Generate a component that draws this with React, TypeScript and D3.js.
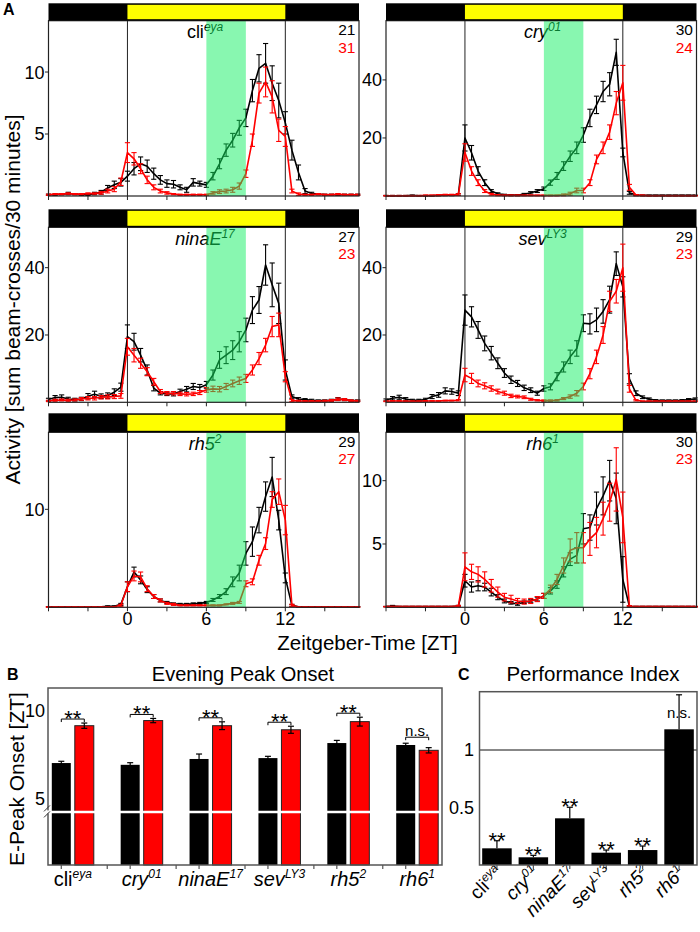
import React from 'react';
import * as d3 from 'd3';

// ---------------- DATA ----------------
const ZT = [-6,-5.5,-5,-4.5,-4,-3.5,-3,-2.5,-2,-1.5,-1,-0.5,
  0,0.5,1,1.5,2,2.5,3,3.5,4,4.5,5,5.5,
  6,6.5,7,7.5,8,8.5,9,9.5,10,10.5,11,11.5,
  12,12.5,13,13.5,14,14.5,15,15.5,16,16.5,17,17.5];

const cliBlack = [0.1,0.1,0.15,0.2,0.15,0.1,0.1,0.2,0.3,0.65,0.9,1.1,
  1.6,2.2,2.6,2.4,1.8,1.3,1.0,0.95,0.7,0.5,1.1,1.0,
  0.9,1.6,2.6,3.7,4.5,5.5,6.3,8.5,10.3,10.7,9.1,7.7,
  5.9,3.7,1.9,0.4,0.2,0.15,0.1,0.1,0.1,0.1,0.1,0.1];
const cliBlackErr = [0.05,0.05,0.05,0.1,0.05,0.05,0.05,0.1,0.15,0.2,0.3,0.3,
  0.4,0.5,0.55,0.5,0.45,0.35,0.3,0.3,0.2,0.2,0.3,0.2,
  0.2,0.3,0.4,0.5,0.55,0.6,0.7,0.9,1.1,1.6,1.4,1.4,
  0.9,0.8,0.6,0.2,0.1,0.05,0.05,0.05,0.05,0.05,0.05,0.05];
const cliRed = [0.1,0.15,0.15,0.2,0.15,0.15,0.2,0.2,0.25,0.4,0.55,1.15,
  3.5,3.0,2.2,1.3,0.7,0.4,0.25,0.15,0.1,0.1,0.1,0.1,
  0.1,0.25,0.35,0.4,0.5,0.8,1.8,4.5,8.3,9.2,8.0,5.3,
  4.8,0.4,0.15,0.1,0.1,0.15,0.1,0.1,0.15,0.1,0.1,0.1];
const cliRedErr = [0.05,0.05,0.05,0.05,0.05,0.05,0.05,0.05,0.1,0.15,0.2,0.3,
  0.8,0.5,0.4,0.3,0.2,0.15,0.1,0.05,0.05,0.05,0.05,0.05,
  0.05,0.1,0.15,0.15,0.2,0.25,0.3,0.5,0.8,1.2,1.3,0.9,
  0.8,0.15,0.1,0.05,0.05,0.05,0.05,0.05,0.05,0.05,0.05,0.05];

const cryBlack = [0.1,0.1,0.1,0.1,0.2,0.1,0.1,0.1,0.2,0.3,0.3,0.5,
  20,14.9,8.6,4.6,1.7,0.8,0.4,0.3,0.3,0.6,1.1,1.7,
  2.5,4.6,6.9,10.3,13.7,16.6,21,26.9,31.4,36,38.5,49.5,
  15,1.1,0.3,0.2,0.2,0.2,0.2,0.2,0.2,0.2,0.2,0.2];
const cryBlackErr = [0.1,0.1,0.1,0.1,0.1,0.1,0.1,0.1,0.1,0.2,0.2,0.3,
  4.5,2.5,1.5,1.0,0.5,0.3,0.2,0.2,0.2,0.3,0.4,0.5,
  0.6,0.9,1.2,1.5,1.8,2.0,2.5,3.0,3.0,3.5,4.0,4.5,
  1.5,0.5,0.2,0.1,0.1,0.1,0.1,0.1,0.1,0.1,0.1,0.1];
const cryRed = [0.1,0.1,0.1,0.1,0.1,0.1,0.2,0.2,0.3,0.4,0.4,0.5,
  15,8.6,4.6,1.7,0.6,0.3,0.2,0.2,0.2,0.2,0.2,0.2,
  0.2,0.2,0.2,0.4,0.8,1.9,1.9,4.6,12.6,16.6,22,32,
  39,3,0.3,0.2,0.1,0.1,0.1,0.1,0.1,0.1,0.1,0.1];
const cryRedErr = [0.1,0.1,0.1,0.1,0.1,0.1,0.1,0.1,0.2,0.2,0.2,0.3,
  3.0,1.5,1.0,0.5,0.3,0.2,0.1,0.1,0.1,0.1,0.1,0.1,
  0.1,0.1,0.1,0.3,0.5,0.8,0.8,1.0,1.5,2.0,2.5,4.0,
  6.0,1.0,0.2,0.1,0.1,0.1,0.1,0.1,0.1,0.1,0.1,0.1];

const ninaEBlack = [0.8,1.4,1.5,1.0,0.8,1.0,1.8,2.4,1.8,2.0,3.0,4.5,
  19.5,18,14,9.6,4.2,2.7,2.5,2.5,3.2,3.9,4.7,4.4,
  5.2,8.1,12.6,14,15.5,18,21.5,27.4,30.4,40.8,34.9,29.4,
  9.6,1.7,1.0,0.8,0.6,0.5,0.5,0.6,1.0,0.8,0.5,0.5];
const ninaEBlackErr = [0.4,0.6,0.7,0.5,0.4,0.5,0.8,0.9,0.7,0.8,1.0,1.2,
  3.5,2.5,2.0,1.5,0.8,0.5,0.5,0.6,0.7,0.8,0.9,0.9,
  1.0,1.5,2.5,2.5,2.8,3.0,3.5,4.0,4.0,6.0,6.5,6.0,
  3.0,0.5,0.4,0.3,0.3,0.2,0.2,0.3,0.4,0.3,0.2,0.2];
const ninaERed = [0.4,0.6,0.7,0.6,0.7,1.0,1.2,1.2,1.5,1.6,1.7,1.9,
  16.5,14,11.6,9.1,6.1,3.2,2.7,2.7,2.5,2.4,2.5,2.9,
  3.7,4.0,3.9,4.7,5.6,6.4,7.1,9.6,13,17,22.5,23,
  7.6,0.5,0.4,0.3,0.3,0.3,0.4,0.5,0.9,0.8,0.5,0.4];
const ninaERedErr = [0.2,0.3,0.3,0.3,0.3,0.4,0.5,0.5,0.5,0.6,0.6,0.7,
  2.5,2.0,1.5,1.2,1.0,0.6,0.5,0.5,0.5,0.5,0.5,0.6,
  0.7,0.8,0.8,0.9,1.0,1.1,1.2,1.5,1.8,2.0,3.0,3.5,
  1.5,0.3,0.2,0.2,0.2,0.2,0.2,0.3,0.4,0.3,0.2,0.2];

const sevBlack = [0.7,1.2,1.5,1.0,0.6,0.6,0.8,1.7,2.2,3.4,3.2,2.7,
  27.4,25.4,21.5,17.5,14.6,11.6,8.7,6.7,5.6,4.3,3.6,2.7,
  4.1,4.6,7.6,10.5,13.5,16,23.5,23.3,24.5,27,30.5,41.2,
  34.3,7,2.7,1.5,1.0,0.6,0.5,0.5,0.5,0.6,0.8,1.0];
const sevBlackErr = [0.3,0.5,0.6,0.4,0.3,0.3,0.4,0.6,0.7,0.9,0.8,0.7,
  4.5,3.0,2.5,2.2,2.0,1.6,1.3,1.1,0.9,0.8,0.7,0.6,
  0.8,0.9,1.2,1.5,2.0,2.3,2.5,3.0,3.5,3.5,4.0,3.5,
  3.0,1.5,0.7,0.4,0.3,0.2,0.2,0.2,0.2,0.2,0.3,0.3];
const sevRed = [0.3,0.4,0.4,0.3,0.3,0.3,0.4,0.4,0.4,0.5,0.5,0.6,
  8.1,7.1,5.6,4.9,4.1,3.2,2.7,1.9,1.7,1.5,0.9,0.6,
  0.5,0.5,0.6,1.1,1.7,2.7,4.7,8.5,13.5,20,30,33,
  40,4,0.6,0.3,0.3,0.3,0.3,0.3,0.3,0.3,0.3,0.3];
const sevRedErr = [0.1,0.1,0.1,0.1,0.1,0.1,0.1,0.1,0.1,0.1,0.1,0.2,
  2.0,1.5,1.0,0.9,0.8,0.7,0.6,0.5,0.4,0.4,0.3,0.2,
  0.2,0.2,0.2,0.3,0.5,0.8,1.0,1.5,2.0,2.5,3.0,3.5,
  7.0,1.0,0.2,0.1,0.1,0.1,0.1,0.1,0.1,0.1,0.1,0.1];

const rh5Black = [0.05,0.05,0.05,0.05,0.05,0.05,0.05,0.05,0.05,0.1,0.1,0.3,
  2.1,3.6,2.8,1.8,1.1,0.7,0.5,0.35,0.3,0.3,0.35,0.4,
  0.5,0.75,1.1,1.6,2.6,3.5,5.5,6.7,8.9,11.3,13.3,8.9,
  3.0,0.2,0.05,0.05,0.05,0.05,0.05,0.05,0.05,0.05,0.05,0.05];
const rh5BlackErr = [0.02,0.02,0.02,0.02,0.02,0.02,0.02,0.02,0.02,0.05,0.05,0.1,
  0.5,0.5,0.4,0.3,0.2,0.15,0.1,0.1,0.1,0.1,0.1,0.1,
  0.1,0.15,0.2,0.3,0.5,0.8,1.2,1.5,1.3,1.5,2.0,1.0,
  0.5,0.1,0.02,0.02,0.02,0.02,0.02,0.02,0.02,0.02,0.02,0.02];
const rh5Red = [0.03,0.03,0.03,0.03,0.03,0.03,0.03,0.03,0.03,0.03,0.05,0.2,
  2.1,3.2,3.1,1.9,1.1,0.7,0.4,0.3,0.2,0.2,0.2,0.2,
  0.2,0.2,0.2,0.3,0.4,0.5,2.4,2.6,4.8,6.5,11,11.8,
  8.9,0.2,0.03,0.03,0.03,0.03,0.03,0.03,0.03,0.03,0.03,0.03];
const rh5RedErr = [0.02,0.02,0.02,0.02,0.02,0.02,0.02,0.02,0.02,0.02,0.02,0.1,
  0.5,0.5,0.5,0.3,0.2,0.15,0.1,0.1,0.05,0.05,0.05,0.05,
  0.05,0.05,0.05,0.05,0.1,0.1,0.3,0.3,0.5,0.6,0.8,1.3,
  1.5,0.1,0.02,0.02,0.02,0.02,0.02,0.02,0.02,0.02,0.02,0.02];

const rh6Black = [0.05,0.1,0.05,0.05,0.05,0.05,0.05,0.05,0.05,0.05,0.05,0.1,
  2.1,1.6,1.7,1.6,1.2,0.8,0.5,0.35,0.26,0.4,0.5,0.65,
  0.9,1.3,1.8,2.8,3.8,4.1,6.2,6.3,7.8,8.8,10,8.6,
  2.2,0.08,0.05,0.05,0.05,0.05,0.05,0.05,0.05,0.05,0.05,0.05];
const rh6BlackErr = [0.02,0.05,0.02,0.02,0.02,0.02,0.02,0.02,0.02,0.02,0.02,0.05,
  0.5,0.4,0.4,0.3,0.3,0.2,0.15,0.1,0.1,0.1,0.1,0.15,
  0.2,0.25,0.3,0.4,0.5,0.6,1.2,1.0,1.3,1.5,1.6,2.0,
  1.8,0.05,0.02,0.02,0.02,0.02,0.02,0.02,0.02,0.02,0.02,0.02];
const rh6Red = [0.05,0.05,0.05,0.05,0.05,0.05,0.05,0.05,0.05,0.05,0.05,0.1,
  3.2,2.8,2.6,2.2,1.7,1.2,0.8,0.65,0.5,0.45,0.5,0.65,
  0.9,1.45,2.2,3.3,4.5,4.7,4.7,5.4,5.9,7.0,8.3,10.1,
  7.1,0.08,0.05,0.05,0.05,0.05,0.05,0.05,0.05,0.05,0.05,0.05];
const rh6RedErr = [0.02,0.02,0.02,0.02,0.02,0.02,0.02,0.02,0.02,0.02,0.02,0.05,
  1.1,0.6,0.6,0.6,0.5,0.4,0.3,0.3,0.2,0.2,0.2,0.2,
  0.2,0.3,0.4,0.6,0.9,1.2,1.2,1.3,1.2,1.3,1.5,2.5,
  2.0,0.05,0.02,0.02,0.02,0.02,0.02,0.02,0.02,0.02,0.02,0.02];

const genotypes = [
  { base: 'cli', sup: 'eya', italic: false },
  { base: 'cry', sup: '01', italic: true },
  { base: 'ninaE', sup: '17', italic: true },
  { base: 'sev', sup: 'LY3', italic: true },
  { base: 'rh5', sup: '2', italic: true },
  { base: 'rh6', sup: '1', italic: true },
];
const nBlack = [21, 30, 27, 29, 29, 30];
const nRed = [31, 24, 23, 23, 27, 23];
const yMaxA = [14.14, 60.4, 52, 52, 17.86, 13.82];
const yTicksA = [[5, 10], [20, 40], [20, 40], [20, 40], [10], [5, 10]];
const ztTicks = [-6, -3, 0, 3, 6, 9, 12, 15];
const ztLabels = [0, 6, 12];
const lightOn = 0, lightOff = 12;
const greenFrom = 6, greenTo = 9;

const onsetBlack = [7.02, 6.92, 7.25, 7.3, 8.15, 8.04];
const onsetBlackErr = [0.1, 0.12, 0.28, 0.1, 0.15, 0.1];
const onsetRed = [9.13, 9.42, 9.13, 8.9, 9.36, 7.74];
const onsetRedErr = [0.15, 0.12, 0.22, 0.2, 0.25, 0.15];
const onsetSig = ['**', '**', '**', '**', '**', 'n.s.'];
const onsetTicks = [5, 10];
const onsetBreak = 4.26;

const piValues = [0.145, 0.067, 0.406, 0.107, 0.13, 1.18];
const piErr = [0.066, 0.017, 0.096, 0.023, 0.035, 0.30];
const piSig = ['**', '**', '**', '**', '**', 'n.s.'];
const piTicks = [0.5, 1];

const blackSeries = [cliBlack, cryBlack, ninaEBlack, sevBlack, rh5Black, rh6Black];
const blackErrs = [cliBlackErr, cryBlackErr, ninaEBlackErr, sevBlackErr, rh5BlackErr, rh6BlackErr];
const redSeries = [cliRed, cryRed, ninaERed, sevRed, rh5Red, rh6Red];
const redErrs = [cliRedErr, cryRedErr, ninaERedErr, sevRedErr, rh5RedErr, rh6RedErr];

// ---------------- LAYOUT ----------------
const FONT = "'Liberation Sans', Arial, Helvetica, sans-serif";
const RED = '#ff0000';
const colLeft = [48.5, 386];
const colW = 310.5;
const rows = [
  { barTop: 3.3, barBot: 20.7, bottom: 196 },
  { barTop: 209.3, barBot: 227.3, bottom: 402.3 },
  { barTop: 413.3, barBot: 432.3, bottom: 607.3 },
];

function Geno({ g, x, y, size, sup, anchor = 'middle', transform }: any) {
  return (
    <text x={x} y={y} fontSize={size} textAnchor={anchor} transform={transform}>
      <tspan fontStyle={g.italic ? 'italic' : 'normal'}>{g.base}</tspan>
      <tspan fontStyle="italic" fontSize={sup} dy={-size * 0.38}>{g.sup}</tspan>
    </text>
  );
}

function ActivityPanel({ gi }: { gi: number }) {
  const col = gi % 2;
  const row = Math.floor(gi / 2);
  const r = rows[row];
  const x0 = colLeft[col];
  const x1 = x0 + colW;
  const x = d3.scaleLinear().domain([-6, 17.6]).range([x0, x1]);
  const y = d3.scaleLinear().domain([0, yMaxA[gi]]).range([r.bottom, r.barBot]);
  const line = d3.line<number>().x((_, i) => x(ZT[i])).y((d) => y(d));
  const series = [
    { v: blackSeries[gi], e: blackErrs[gi], c: '#000' },
    { v: redSeries[gi], e: redErrs[gi], c: RED },
  ];
  return (
    <g>
      {[lightOn, lightOff].map((t) => (
        <line key={t} x1={x(t)} x2={x(t)} y1={r.barBot} y2={r.bottom} stroke="#222" strokeWidth={1} />
      ))}
      {series.map((s, si) => (
        <g key={si}>
          <path d={line(s.v) || ''} fill="none" stroke={s.c} strokeWidth={1.6} strokeLinejoin="round" />
          {s.v.map((v, i) => {
            const xi = x(ZT[i]);
            const lo = y(Math.max(0, v - s.e[i]));
            const hi = y(v + s.e[i]);
            return (
              <g key={i} stroke={s.c} strokeWidth={1.1}>
                <line x1={xi} x2={xi} y1={lo} y2={hi} />
                <line x1={xi - 2.6} x2={xi + 2.6} y1={hi} y2={hi} />
                <line x1={xi - 2.6} x2={xi + 2.6} y1={lo} y2={lo} />
              </g>
            );
          })}
        </g>
      ))}
      <Geno g={genotypes[gi]} x={x(5.9)} y={r.barBot + 17.5} size={18} sup={12} />
      <text x={x1 - 3.5} y={r.barBot + 14.5} fontSize={15.5} textAnchor="end" fill="#000">{nBlack[gi]}</text>
      <text x={x1 - 3.5} y={r.barBot + 32} fontSize={15.5} textAnchor="end" fill={RED}>{nRed[gi]}</text>
      <rect x={x(greenFrom)} width={x(greenTo) - x(greenFrom)} y={r.barBot} height={r.bottom - r.barBot}
        fill="rgb(17,239,97)" fillOpacity={0.5} />
      <rect x={x0} y={r.barBot} width={colW} height={r.bottom - r.barBot} fill="none" stroke="#222" strokeWidth={1.2} />
      <rect x={x0} y={r.barTop} width={colW} height={r.barBot - r.barTop} fill="#000" />
      <rect x={x(lightOn)} y={r.barTop + 1.5} width={x(lightOff) - x(lightOn)} height={r.barBot - r.barTop - 3} fill="#ffff00" />
      {ztTicks.map((t) => (
        <line key={t} x1={x(t)} x2={x(t)} y1={r.bottom} y2={r.bottom + 4} stroke="#222" strokeWidth={1} />
      ))}
      {row === 2 && ztLabels.map((t) => (
        <text key={t} x={x(t)} y={r.bottom + 18} fontSize={18} textAnchor="middle">{t}</text>
      ))}
      {yTicksA[gi].map((t) => (
        <g key={t}>
          <line x1={x0 - 3.5} x2={x0} y1={y(t)} y2={y(t)} stroke="#222" strokeWidth={1} />
          <text x={x0 - 4} y={y(t)} dy="0.36em" fontSize={18} textAnchor="end">{t}</text>
        </g>
      ))}
    </g>
  );
}

function OnsetPanel() {
  const left = 48, right = 442, top = 688, bottom = 865;
  const names = genotypes.map((g) => g.base);
  const x = d3.scalePoint<string>().domain(names).range([left, right]).padding(0.36);
  const y = d3.scaleLinear().domain([1.26, 11.26]).range([bottom, top]);
  const bw = 19;
  const step = x.step();
  const tickXs: number[] = [];
  names.forEach((n, i) => {
    const c = x(n)!;
    tickXs.push(c - 11.5);
    if (i < names.length - 1) tickXs.push(c + step / 2);
  });
  return (
    <g>
      <text x={7} y={680} fontSize={16} fontWeight="bold">B</text>
      <text x={243} y={680.5} fontSize={20} textAnchor="middle">Evening Peak Onset</text>
      {names.map((n, i) => {
        const c = x(n)!;
        const bx = c - 21, rx = c + 2;
        const yb = y(onsetBlack[i]), yr = y(onsetRed[i]);
        const ebTop = y(onsetBlack[i] + onsetBlackErr[i]), ebBot = y(onsetBlack[i] - onsetBlackErr[i]);
        const erTop = y(onsetRed[i] + onsetRedErr[i]), erBot = y(onsetRed[i] - onsetRedErr[i]);
        const bcx = bx + bw / 2, rcx = rx + bw / 2;
        const brY = Math.min(ebTop, erTop) - (onsetSig[i] === 'n.s.' ? 6 : 4);
        return (
          <g key={n}>
            <rect x={bx} y={yb} width={bw} height={bottom - yb} fill="#000" />
            <rect x={rx} y={yr} width={bw} height={bottom - yr} fill={RED} stroke="#222" strokeWidth={1} />
            <g stroke="#000" strokeWidth={1.2}>
              <line x1={bcx} x2={bcx} y1={ebTop} y2={ebBot} />
              <line x1={bcx - 3} x2={bcx + 3} y1={ebTop} y2={ebTop} />
              <line x1={rcx} x2={rcx} y1={erTop} y2={erBot} />
              <line x1={rcx - 3} x2={rcx + 3} y1={erTop} y2={erTop} />
              <line x1={rcx - 3} x2={rcx + 3} y1={erBot} y2={erBot} />
              <path d={`M${bcx},${brY + 3}V${brY}H${rcx}V${brY + 3}`} fill="none" strokeWidth={1} />
            </g>
            {onsetSig[i] === 'n.s.' ? (
              <text x={c} y={brY - 1.5} fontSize={15} textAnchor="middle">n.s.</text>
            ) : (
              <text x={c} y={brY + 7} fontSize={22} textAnchor="middle">**</text>
            )}
            <Geno g={genotypes[i]} x={c} y={886} size={20} sup={12} />
          </g>
        );
      })}
      <line x1={left + 1} x2={right - 1} y1={y(onsetBreak)} y2={y(onsetBreak)} stroke="#fff" strokeWidth={2.5} />
      <rect x={left} y={top} width={right - left} height={bottom - top} fill="none" stroke="#555" strokeWidth={1.5} />
      <line x1={left} x2={left} y1={y(onsetBreak) - 1.5} y2={y(onsetBreak) + 1.5} stroke="#fff" strokeWidth={3} />
      <g stroke="#333" strokeWidth={1}>
        <line x1={left - 4} x2={left + 2} y1={y(onsetBreak) - 0.5} y2={y(onsetBreak) - 6.5} />
        <line x1={left - 4} x2={left + 2} y1={y(onsetBreak) + 5.5} y2={y(onsetBreak) - 0.5} />
      </g>
      {tickXs.map((t, i) => (
        <line key={i} x1={t} x2={t} y1={bottom} y2={bottom + 4} stroke="#555" strokeWidth={1.2} />
      ))}
      {onsetTicks.map((t) => (
        <text key={t} x={45} y={y(t)} dy="0.36em" fontSize={18} textAnchor="end">{t}</text>
      ))}
      <text transform={`translate(24,779) rotate(-90)`} fontSize={21} textAnchor="middle">E-Peak Onset [ZT]</text>
    </g>
  );
}

function PIPanel() {
  const left = 479.5, right = 697, top = 691.7, bottom = 865;
  const names = genotypes.map((g) => g.base);
  const x = d3.scaleBand<string>().domain(names).range([480, 696]).paddingInner(0.19).paddingOuter(0.06);
  const y = d3.scaleLinear().domain([0, 1.507]).range([bottom, top]);
  const bw = x.bandwidth();
  return (
    <g>
      <text x={458} y={680} fontSize={16} fontWeight="bold">C</text>
      <text x={593} y={680.5} fontSize={20.5} textAnchor="middle">Performance Index</text>
      <line x1={left} x2={right} y1={y(1)} y2={y(1)} stroke="#111" strokeWidth={1} />
      {names.map((n, i) => {
        const bx = x(n)!;
        const c = bx + bw / 2;
        const yt = y(piValues[i]);
        const et = y(piValues[i] + piErr[i]);
        return (
          <g key={n}>
            <rect x={bx} y={yt} width={bw} height={bottom - yt} fill="#000" />
            <g stroke="#000" strokeWidth={1.2}>
              <line x1={c} x2={c} y1={yt} y2={et} />
              <line x1={c - 3} x2={c + 3} y1={et} y2={et} />
            </g>
            {piSig[i] === 'n.s.' ? (
              <text x={c} y={718.3} fontSize={15} textAnchor="middle">n.s.</text>
            ) : (
              <text x={c} y={et + 7} fontSize={22} textAnchor="middle">**</text>
            )}
            <line x1={c} x2={c} y1={bottom} y2={bottom + 4} stroke="#555" strokeWidth={1.2} />
            <Geno g={genotypes[i]} x={0} y={0} size={19} sup={12} anchor="end"
              transform={`translate(${c + 7},${bottom + 9}) rotate(-45)`} />
          </g>
        );
      })}
      <rect x={left} y={top} width={right - left} height={bottom - top} fill="none" stroke="#555" strokeWidth={1.5} />
      {piTicks.map((t) => (
        <text key={t} x={474} y={y(t)} dy="0.36em" fontSize={18} textAnchor="end">{t}</text>
      ))}
    </g>
  );
}

export default function App() {
  return (
    <svg width={700} height={932} viewBox="0 0 700 932"
      style={{ position: 'absolute', left: 0, top: 0, background: '#fff' }}
      fontFamily={FONT}>
      <rect x={0} y={0} width={700} height={932} fill="#fff" />
      <text x={3} y={15} fontSize={16} fontWeight="bold">A</text>
      {genotypes.map((_, gi) => <ActivityPanel key={gi} gi={gi} />)}
      <text transform="translate(20,299.5) rotate(-90)" fontSize={21} textAnchor="middle">
        Activity [sum beam-crosses/30 minutes]
      </text>
      <text x={367.5} y={650} fontSize={20.5} textAnchor="middle">Zeitgeber-Time [ZT]</text>
      <OnsetPanel />
      <PIPanel />
    </svg>
  );
}
